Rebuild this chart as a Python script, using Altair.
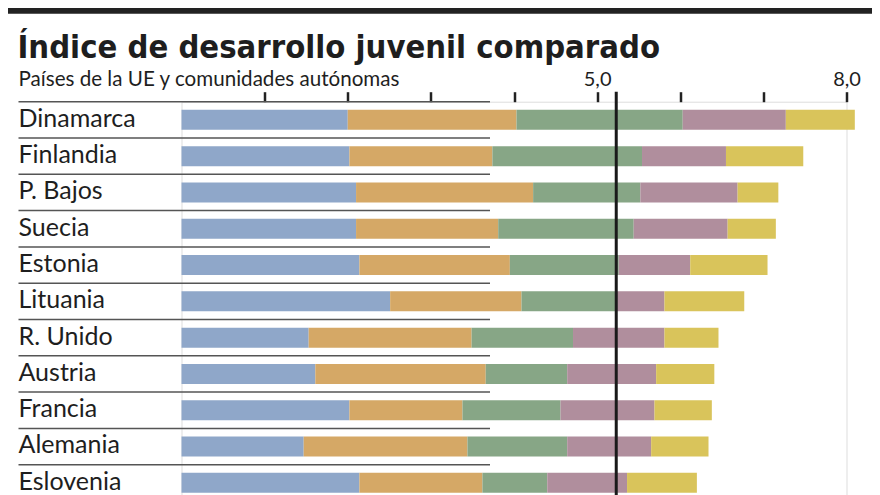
import altair as alt
import pandas as pd

# ---- data -------------------------------------------------------------
titulo = "Índice de desarrollo juvenil comparado"
subtitulo = "Países de la UE y comunidades autónomas"

paises = ["Dinamarca", "Finlandia", "P. Bajos", "Suecia", "Estonia", "Lituania",
          "R. Unido", "Austria", "Francia", "Alemania", "Eslovenia"]

componentes = ["Educación", "Salud y bienestar", "Empleo y oportunidades",
               "Participación política", "Participación cívica"]

educacion = [2.00, 2.02, 2.10, 2.10, 2.14, 2.51, 1.53, 1.61, 2.02, 1.47, 2.14]
salud = [2.03, 1.72, 2.13, 1.71, 1.81, 1.58, 1.96, 2.05, 1.36, 1.97, 1.48]
empleo = [2.00, 1.80, 1.29, 1.63, 1.31, 1.13, 1.22, 0.98, 1.18, 1.20, 0.78]
politica = [1.24, 1.01, 1.17, 1.13, 0.86, 0.59, 1.10, 1.07, 1.13, 1.01, 0.96]
civica = [0.83, 0.93, 0.49, 0.58, 0.93, 0.96, 0.65, 0.70, 0.69, 0.69, 0.84]

colores = ["#8fa7c9", "#d5a866", "#87a686", "#b08e9d", "#d9c45b"]

tick_valores = [1, 2, 3, 4, 5, 6, 7, 8]
referencia = [5.23]

# ---- tables -----------------------------------------------------------
series = [educacion, salud, empleo, politica, civica]
filas = []
for i, p in enumerate(paises):
    for j, (c, s) in enumerate(zip(componentes, series)):
        filas.append({"pais": p, "componente": c, "orden": j, "valor": s[i]})
df = pd.DataFrame(filas)
df_p = pd.DataFrame({"pais": paises})

W, H = 665, 399.3
TXT = "#1e1e1e"

y_scale = alt.Scale(paddingInner=0, paddingOuter=0)

bars = alt.Chart(df).mark_bar(height=20).encode(
    x=alt.X("valor:Q", stack="zero",
            scale=alt.Scale(domain=[0, 8], nice=False),
            axis=alt.Axis(orient="top", values=tick_valores,
                          labelExpr="datum.value == 5 ? '5,0' : (datum.value == 8 ? '8,0' : '')",
                          domain=False, grid=False, tickSize=10, tickWidth=2.5,
                          tickColor="#222", labelFont="Lato", labelFontSize=20,
                          labelColor=TXT, labelPadding=2, labelFlush=False,
                          labelOverlap=False, title=None)),
    y=alt.Y("pais:N", sort=paises, axis=None, scale=y_scale),
    color=alt.Color("componente:N", scale=alt.Scale(domain=componentes, range=colores), legend=None),
    order=alt.Order("orden:Q", sort="ascending"),
)

separadores = alt.Chart(df_p).mark_rule(color="#555", strokeWidth=1.5).encode(
    y=alt.Y("pais:N", sort=paises, axis=None, scale=y_scale, bandPosition=0),
    x=alt.value(-163), x2=alt.value(308.5),
)

etiquetas = alt.Chart(df_p).mark_text(align="left", baseline="alphabetic", dy=6.9,
                                      font="Lato", fontSize=25, color=TXT).encode(
    y=alt.Y("pais:N", sort=paises, axis=None, scale=y_scale),
    x=alt.value(-163),
    text="pais:N",
)

linea_ref = alt.Chart(pd.DataFrame({"ref": referencia})).mark_rule(color="#1a1a1a", strokeWidth=3).encode(
    x=alt.X("ref:Q", title=None), y=alt.value(-10), y2=alt.value(H),
)

barra_sup = alt.Chart(pd.DataFrame({"k": [0]})).mark_rule(color="#222", strokeWidth=6).encode(
    x=alt.value(-173.5), x2=alt.value(690.5), y=alt.value(-91),
)

tit = alt.Chart(pd.DataFrame({"t": [titulo]})).mark_text(
    align="left", baseline="alphabetic",
    font="DejaVu Sans Condensed, DejaVu Sans, sans-serif",
    fontWeight="bold", fontSize=32.5, color=TXT).encode(
    x=alt.value(-164), y=alt.value(-43.5), text="t:N")

subtit = alt.Chart(pd.DataFrame({"t": [subtitulo]})).mark_text(
    align="left", baseline="alphabetic", font="Lato", fontSize=20.6, color=TXT).encode(
    x=alt.value(-163), y=alt.value(-15.5), text="t:N")

chart = alt.layer(bars, separadores, etiquetas, linea_ref, barra_sup, tit, subtit).properties(
    width=W, height=H,
    padding={"left": 173.5, "top": 93.7, "right": 25.5, "bottom": 0},
    autosize=alt.AutoSizeParams(type="none"),
).configure_view(stroke=None).configure(background="white")

chart.save("out.html", embed_options={"renderer": "svg", "actions": False})
